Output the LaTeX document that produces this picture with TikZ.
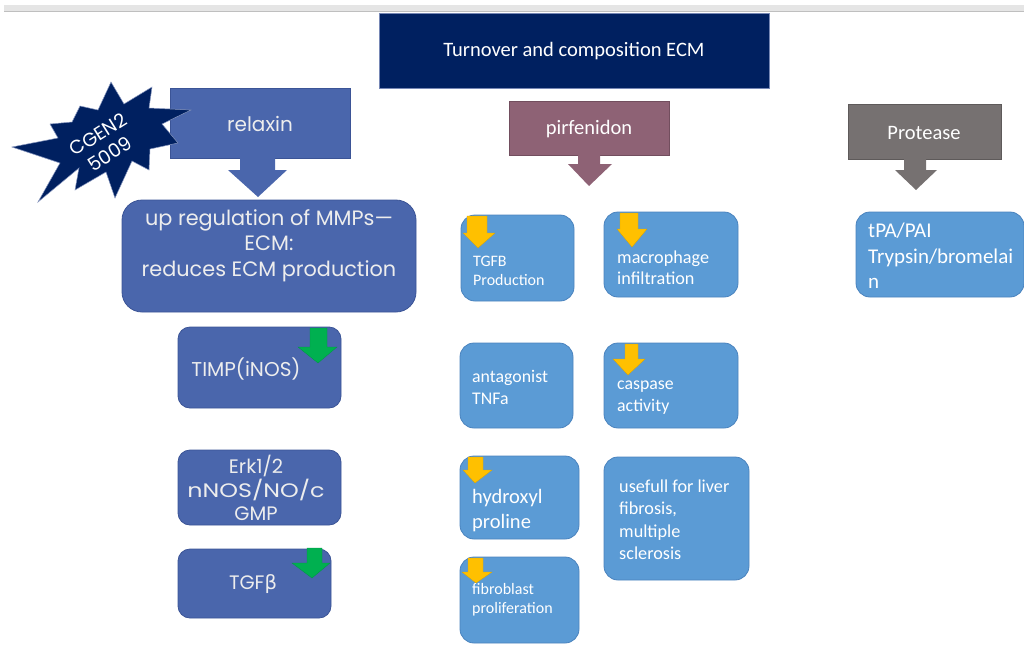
\documentclass[tikz,border=0pt]{standalone}
\usepackage{fontspec}
\usepackage{graphicx}
\setmainfont{Carlito}
\newfontfamily\gothic{Poppins}
\newfontfamily\grk{DejaVu Sans}
\definecolor{navy}{HTML}{002060}
\definecolor{relblue}{HTML}{4A66AC}
\definecolor{relborder}{HTML}{3B5496}
\definecolor{mauve}{HTML}{8E6275}
\definecolor{protgray}{HTML}{767171}
\definecolor{lblue}{HTML}{5B9BD5}
\definecolor{lborder}{HTML}{4A83BE}
\definecolor{ylw}{HTML}{FFC000}
\definecolor{grn}{HTML}{00B050}
\definecolor{softwhite}{HTML}{EDEDED}
\tikzset{
  box/.style={rectangle, inner sep=0pt, outer sep=0pt, line width=0.8pt},
  titlebox/.style={box, fill=navy, draw=relborder!70},
  relbox/.style={box, fill=relblue, draw=relborder},
  relround/.style={relbox, rounded corners=12pt},
  mauvebox/.style={box, fill=mauve, draw=mauve!80!black},
  graybox/.style={box, fill=protgray, draw=protgray!80!black},
  lbbox/.style={box, fill=lblue, draw=lborder, rounded corners=14pt},
  gtxt/.style={text=softwhite, inner sep=0pt, align=center},
  ltxt/.style={text=white, inner sep=0pt, align=left, anchor=west},
  yarrow/.style={fill=ylw, draw=ylw!85!black, line width=0.3pt},
  garrow/.style={fill=grn, draw=grn!85!black, line width=0.3pt},
}
\begin{document}
\begin{tikzpicture}[x=1pt,y=-1pt]
\useasboundingbox (0,0) rectangle (1024,648);
\clip (0,0) rectangle (1024,648);
% top band
\fill[black!10] (4,5) rectangle (1024,11);
\draw[black!25, line width=0.8pt] (4,11.5) -- (1024,11.5);

% title
\node[titlebox, minimum width=390pt, minimum height=75pt] (title) at (574,50.5) {};
\node[text=white, inner sep=0pt, font=\fontsize{20.5}{24}\selectfont] (titletxt) at (574,51) {Turnover and composition ECM};

% relaxin column
\node[relbox, minimum width=180pt, minimum height=70pt] (relaxin) at (260,123) {};
\node[gtxt, font=\gothic\fontsize{20}{24}\selectfont] (relaxintxt) at (260,124) {relaxin};
\fill[relblue] (240,157.6) -- (275,157.6) -- (275,170) -- (287,170) -- (258,197) -- (228,170) -- (240,170) -- cycle;

% star
\filldraw[navy, draw=relborder!60, line width=0.5pt]
  (111,82) -- (124,104) -- (152,87) -- (149,108) -- (191,110) -- (162,124)
  -- (178,143) -- (150,149) -- (149,170) -- (132,161) -- (115,198) -- (106,172)
  -- (75,190) -- (79,168) -- (38,202) -- (60,163) -- (12,147) -- (58,138)
  -- (50,124) -- (72,122) -- (80,106) -- (98,110) -- cycle;
\node[gtxt, text=white, rotate=32, font=\gothic\fontsize{19}{23}\selectfont] (startxt) at (104,144) {CGEN2\\5009};

\node[relbox, rounded corners=20pt, minimum width=294pt, minimum height=112pt] (upreg) at (269,256) {};
\node[gtxt, font=\gothic\fontsize{20.8}{25.5}\selectfont] (upregtxt) at (269,245.5) {up regulation of MMPs—\\ECM:\\reduces ECM production};

\node[relround, minimum width=163pt, minimum height=81pt] (timp) at (259.5,367.5) {};
\node[gtxt, font=\gothic\fontsize{20}{24}\selectfont] (timptxt) at (246,369) {TIMP(iNOS)};
\draw[garrow] (310,328) -- (327,328) -- (327,347) -- (337,347) -- (318,363) -- (298,347) -- (310,347) -- cycle;

\node[relround, minimum width=163pt, minimum height=75pt] (erk) at (259.5,487.5) {};
\node[gtxt, font=\gothic\fontsize{19.5}{23.5}\selectfont] (erktxt) at (256,488) {Erk1/2\\\scalebox{1.22}[1]{nNOS/NO/c}\\GMP};

\node[relround, minimum width=153pt, minimum height=69pt] (tgf) at (254.5,583.5) {};
\node[gtxt, font=\gothic\fontsize{19.5}{22}\selectfont] (tgftxt) at (253,584) {TGF{\grk β}};
\draw[garrow] (307,548) -- (322,548) -- (322,563) -- (330,563) -- (312,578) -- (292,563) -- (307,563) -- cycle;

% pirfenidon column
\node[mauvebox, minimum width=160pt, minimum height=54pt] (pirf) at (589,128) {};
\node[text=white, inner sep=0pt, font=\fontsize{20.5}{24}\selectfont] (pirftxt) at (589,129) {pirfenidon};
\fill[mauve] (578,154.6) -- (600,154.6) -- (600,164) -- (612,164) -- (589,186) -- (568,164) -- (578,164) -- cycle;

\node[lbbox, minimum width=113pt, minimum height=86pt] (tgfp) at (517.5,258) {};
\node[ltxt, font=\fontsize{16}{19}\selectfont] (tgfptxt) at (473,271) {TGFB\\Production};
\draw[yarrow] (467,216) -- (487,216) -- (487,233) -- (495,233) -- (478,248) -- (463,233) -- (467,233) -- cycle;

\node[lbbox, minimum width=134pt, minimum height=85pt] (macro) at (671,254.5) {};
\node[ltxt, font=\fontsize{18.2}{21}\selectfont] (macrotxt) at (617,267.5) {macrophage\\infiltration};
\draw[yarrow] (620,213) -- (638,213) -- (638,229) -- (647,229) -- (632,247) -- (617,229) -- (620,229) -- cycle;

\node[lbbox, minimum width=113pt, minimum height=85pt] (antag) at (516.5,385.5) {};
\node[ltxt, font=\fontsize{17.8}{22}\selectfont] (antagtxt) at (472,387) {antagonist\\TNFa};

\node[lbbox, minimum width=134pt, minimum height=85pt] (casp) at (671,385.5) {};
\node[ltxt, font=\fontsize{17.8}{22}\selectfont] (casptxt) at (617,398) {caspase\\activity};
\draw[yarrow] (625,344) -- (638,344) -- (638,359) -- (645,359) -- (628,375) -- (613,359) -- (625,359) -- cycle;

\node[lbbox, minimum width=119pt, minimum height=83pt] (hydro) at (519.5,497.5) {};
\node[ltxt, font=\fontsize{20.5}{25}\selectfont] (hydrotxt) at (472,510.5) {hydroxyl\\proline};
\draw[yarrow] (468,457) -- (483,457) -- (483,470) -- (492,470) -- (475,483) -- (463,470) -- (468,470) -- cycle;

\node[lbbox, minimum width=119pt, minimum height=86pt] (fibro) at (519.5,600) {};
\node[ltxt, font=\fontsize{16}{19}\selectfont] (fibrotxt) at (472,599.5) {fibroblast\\proliferation};
\draw[yarrow] (468,558) -- (483,558) -- (483,572) -- (492,572) -- (476,583) -- (462,572) -- (468,572) -- cycle;

\node[lbbox, minimum width=145pt, minimum height=123pt] (useful) at (676.5,518.5) {};
\node[ltxt, font=\fontsize{18.2}{22.5}\selectfont] (usefultxt) at (619,519.5) {usefull for liver\\fibrosis,\\multiple\\sclerosis};

% protease column
\node[graybox, minimum width=153pt, minimum height=55pt] (prot) at (924.5,131.5) {};
\node[text=white, inner sep=0pt, font=\fontsize{20.5}{24}\selectfont] (prottxt) at (924,132.5) {Protease};
\fill[protgray] (904,158.6) -- (926,158.6) -- (926,170) -- (937,170) -- (916,190) -- (895,170) -- (904,170) -- cycle;

\node[lbbox, minimum width=168pt, minimum height=85pt] (tpa) at (940,254.5) {};
\node[ltxt, font=\fontsize{21}{25.5}\selectfont] (tpatxt) at (868,256) {tPA/PAI\\Trypsin/bromelai\\n};
\end{tikzpicture}
\end{document}
